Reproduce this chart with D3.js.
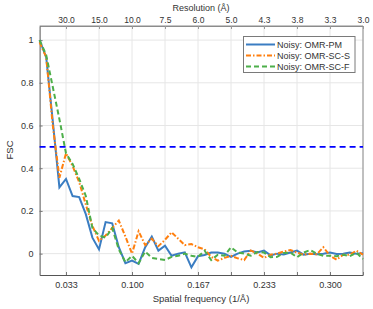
<!DOCTYPE html>
<html><head>
<meta charset="utf-8">
<script src="https://d3js.org/d3.v7.min.js"></script>
<style>
  body { margin: 0; background: #fff; }
  text { font-family: "Liberation Sans", Arial, sans-serif; fill: #333; }
</style>
</head>
<body>
<svg id="chart" width="373" height="309"></svg>
<script>
// sampling grid: k/150 for k = 1..50 (1/Å)
const freq = d3.range(1, 51).map(k => k / 150);

const fscPM = [1.0, 0.92, 0.62, 0.31, 0.35, 0.27, 0.265, 0.185, 0.075, 0.02,
  0.148, 0.142, 0.03, -0.045, -0.033, -0.048, 0.03, 0.08, 0.014, 0.037,
  -0.01, 0.0, 0.006, -0.064, -0.012, -0.006, 0.005, 0.005, 0.0, -0.015,
  0.0, 0.01, 0.014, 0.005, 0.014, -0.008, 0.0, -0.004, 0.005, 0.014,
  -0.005, 0.0, -0.003, 0.0, 0.005, -0.002, 0.0, 0.005, 0.0, 0.002];

const fscSCS = [0.99, 0.92, 0.6, 0.355, 0.47, 0.41, 0.335, 0.23, 0.13, 0.06,
  0.085, 0.12, 0.155, 0.08, 0.0, 0.105, 0.04, 0.07, 0.035, 0.065,
  0.1, 0.07, 0.04, 0.045, 0.03, 0.02, -0.015, -0.033, -0.02, -0.01,
  -0.022, -0.03, 0.015, 0.0, -0.02, -0.005, 0.0, 0.01, 0.017, 0.005,
  -0.005, 0.0, -0.003, 0.03, -0.01, -0.028, -0.005, -0.005, 0.014, -0.005];

const fscSCF = [1.0, 0.93, 0.78, 0.63, 0.47, 0.42, 0.35, 0.27, 0.12, 0.085,
  0.075, 0.12, 0.02, -0.04, -0.01, -0.045, 0.01, -0.02, -0.025, -0.03,
  -0.015, -0.01, 0.0, -0.01, -0.015, 0.014, -0.03, -0.005, -0.01, 0.03,
  0.005, 0.0, -0.01, 0.008, 0.005, -0.017, -0.015, 0.003, 0.005, -0.017,
  0.005, 0.017, 0.0, -0.01, -0.01, -0.012, -0.005, -0.012, 0.005, -0.025];

const seriesNames = ["Noisy: OMR-PM", "Noisy: OMR-SC-S", "Noisy: OMR-SC-F"];
const xTicks = [1/30, 2/30, 3/30, 4/30, 5/30, 6/30, 7/30, 8/30, 9/30, 10/30];
const xTickLabels = ["0.033", "", "0.100", "", "0.167", "", "0.233", "", "0.300", ""];
const resLabels = ["30.0", "15.0", "10.0", "7.5", "6.0", "5.0", "4.3", "3.8", "3.3", "3.0"];
const yTicks = [0, 0.2, 0.4, 0.6, 0.8, 1];
const yTickLabels = ["0", "0.2", "0.4", "0.6", "0.8", "1"];
const threshold = 0.5;

let svg = d3.select("svg#chart");
const m = {left: 39.6, right: 363, top: 26, bottom: 275};

let x = d3.scaleLinear().domain([1/150, 1/3]).range([m.left, m.right]);
let y = d3.scaleLinear().domain([-0.1, 1.066]).range([m.bottom, m.top]);

// gridlines
xTicks.forEach(t => {
  svg.append("line")
    .attr("x1", x(t)).attr("x2", x(t))
    .attr("y1", m.top).attr("y2", m.bottom)
    .style("stroke", "#e6e6e6").style("stroke-width", 1);
});
yTicks.forEach(t => {
  svg.append("line")
    .attr("x1", m.left).attr("x2", m.right)
    .attr("y1", y(t)).attr("y2", y(t))
    .style("stroke", "#e6e6e6").style("stroke-width", 1);
});

// box
svg.append("line").attr("x1", m.left).attr("x2", m.right).attr("y1", m.top).attr("y2", m.top)
  .style("stroke", "#8c8c8c");
svg.append("line").attr("x1", m.right).attr("x2", m.right).attr("y1", m.top).attr("y2", m.bottom)
  .style("stroke", "#8c8c8c");

// axes
let xAxis = d3.axisBottom(x).tickValues(xTicks).tickFormat((d, i) => xTickLabels[i])
  .tickSizeInner(-3).tickSizeOuter(0).tickPadding(7);
let gx = svg.append("g").attr("transform", `translate(0,${m.bottom})`).call(xAxis);

let xTop = d3.axisTop(x).tickValues(xTicks).tickFormat((d, i) => resLabels[i])
  .tickSizeInner(-3).tickSizeOuter(0).tickPadding(3.5);
let gt = svg.append("g").attr("transform", `translate(0,${m.top})`).call(xTop);

let yAxis = d3.axisLeft(y).tickValues(yTicks).tickFormat((d, i) => yTickLabels[i])
  .tickSizeInner(-3).tickSizeOuter(0).tickPadding(6);
let gy = svg.append("g").attr("transform", `translate(${m.left},0)`).call(yAxis);

[gx, gt, gy].forEach(g => {
  g.selectAll("text").style("font-size", "9px").style("fill", "#333")
    .style("font-family", "'Liberation Sans', Arial, sans-serif");
  g.selectAll(".tick line").style("stroke", "#777");
});
gt.selectAll("text").style("font-size", "8.5px");
gx.select(".domain").style("stroke", "#555");
gy.select(".domain").style("stroke", "#555");
gt.select(".domain").style("stroke", "#8c8c8c");
gt.selectAll(".tick line").style("stroke", "#999");

// axis titles
svg.append("text").attr("x", 201).attr("y", 302).attr("text-anchor", "middle")
  .style("font-size", "9.5px").text("Spatial frequency (1/Å)");
svg.append("text").attr("x", 201).attr("y", 11).attr("text-anchor", "middle")
  .style("font-size", "9px").text("Resolution (Å)");
svg.append("text").attr("transform", "translate(13,150) rotate(-90)").attr("text-anchor", "middle")
  .style("font-size", "9.5px").text("FSC");

// threshold line
svg.append("line")
  .attr("x1", m.left).attr("x2", m.right)
  .attr("y1", y(threshold)).attr("y2", y(threshold))
  .style("stroke", "#0000ff").style("stroke-width", 1.6).style("stroke-dasharray", "6,4");

// curves
const styles = [
  {color: "#3a7dc2", dash: null},
  {color: "#ff7f0e", dash: "5,2,1.5,2"},
  {color: "#4daf4a", dash: "5,3"}
];
const allSeries = [fscPM, fscSCS, fscSCF];
let line = d3.line().x((d, i) => x(freq[i])).y(d => y(d));

allSeries.forEach((s, j) => {
  svg.append("path")
    .attr("d", line(s))
    .style("fill", "none")
    .style("stroke", styles[j].color)
    .style("stroke-width", 2)
    .style("stroke-dasharray", styles[j].dash);
});

// legend
let lg = svg.append("g");
lg.append("rect").attr("x", 243.5).attr("y", 36.5).attr("width", 111.5).attr("height", 36)
  .style("fill", "#fff").style("stroke", "#7a7a7a").style("stroke-width", 1);
seriesNames.forEach((name, j) => {
  let yy = 44.5 + j * 11;
  lg.append("line").attr("x1", 246).attr("x2", 275).attr("y1", yy).attr("y2", yy)
    .style("stroke", styles[j].color).style("stroke-width", 2)
    .style("stroke-dasharray", styles[j].dash);
  lg.append("text").attr("x", 277).attr("y", yy + 3.3)
    .style("font-size", "9px").text(name);
});
</script>
</body>
</html>
